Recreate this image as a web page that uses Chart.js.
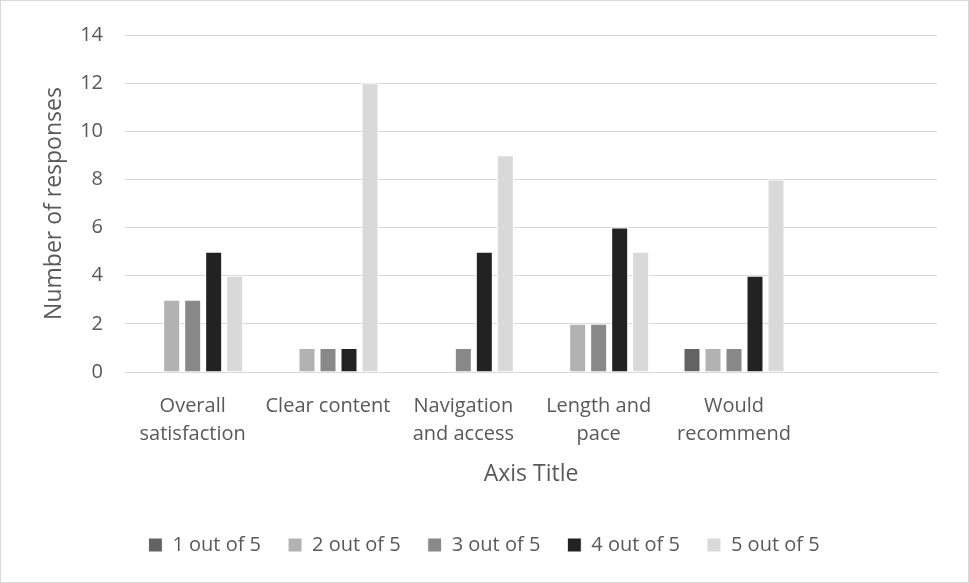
<!DOCTYPE html>
<html>
<head>
<meta charset="utf-8">
<script src="https://cdn.jsdelivr.net/npm/chart.js@4.4.1/dist/chart.umd.min.js"></script>
<style>
  html, body { margin: 0; padding: 0; background: #fff; }
  #wrap { position: absolute; left: 0; top: 0; width: 967px; height: 581px; border: 1px solid #d9d9d9; }
  canvas { display: block; }
</style>
</head>
<body>
<div id="wrap"><canvas id="chart" width="967" height="581"></canvas></div>
<script>
// Categories (the last one is an empty slot, as in the original sheet)
const categories = [
  ["Overall", "satisfaction"],
  "Clear content",
  ["Navigation", "and access"],
  ["Length and", "pace"],
  ["Would", "recommend"],
  "",
];

// Responses per rating
const oneOutOfFive = [0, 0, 0, 0, 1, null];
const twoOutOfFive = [3, 1, 0, 2, 1, null];
const threeOutOfFive = [3, 1, 1, 2, 1, null];
const fourOutOfFive = [5, 1, 5, 6, 4, null];
const fiveOutOfFive = [4, 12, 9, 5, 8, null];

const seriesLabels = ["1 out of 5", "2 out of 5", "3 out of 5", "4 out of 5", "5 out of 5"];
const seriesColors = ["#636363", "#b2b2b2", "#898989", "#222222", "#d9d9d9"];

const textColor = "#595959";
const gridColor = "#d9d9d9";
const fontFamily = "'Open Sans', sans-serif";

const seriesData = [oneOutOfFive, twoOutOfFive, threeOutOfFive, fourOutOfFive, fiveOutOfFive];

const datasets = seriesData.map((values, i) => ({
  label: seriesLabels[i],
  data: values,
  backgroundColor: seriesColors[i],
  borderColor: "#ffffff",
  borderWidth: 1,
  borderSkipped: "bottom",
  categoryPercentage: 0.776,
  barPercentage: 0.81,
}));

const config = {
  type: "bar",
  data: { labels: categories, datasets },
  options: {
    responsive: false,
    animation: false,
    layout: { padding: { left: 30, right: 31, top: 34, bottom: 17 } },
    plugins: {
      tooltip: { enabled: false },
      legend: {
        position: "bottom",
        labels: {
          color: textColor,
          font: { family: fontFamily, size: 20 },
          boxWidth: 14,
          boxHeight: 14,
          padding: 27,
        },
      },
    },
    scales: {
      x: {
        grid: { display: false },
        border: { display: true, color: gridColor, width: 1 },
        ticks: {
          color: textColor,
          font: { family: fontFamily, size: 20, lineHeight: 1.4 },
          padding: 12,
          maxRotation: 0,
          autoSkip: false,
        },
        title: {
          display: true,
          text: "Axis Title",
          color: textColor,
          font: { family: fontFamily, size: 23 },
          padding: { top: 4, bottom: 20 },
        },
        afterFit(scale) {
          scale.height = 136;
        },
      },
      y: {
        min: 0,
        max: 14,
        grid: { color: gridColor, lineWidth: 1, drawTicks: false },
        border: { display: false },
        ticks: {
          stepSize: 2,
          color: textColor,
          font: { family: fontFamily, size: 20 },
          padding: 22,
        },
        title: {
          display: true,
          text: "Number of responses",
          color: textColor,
          font: { family: fontFamily, size: 23 },
          padding: { top: 10, bottom: 0 },
        },
        afterFit(scale) {
          scale.width = 94;
        },
      },
    },
  },
};

new Chart(document.getElementById("chart").getContext("2d"), config);
</script>
</body>
</html>
